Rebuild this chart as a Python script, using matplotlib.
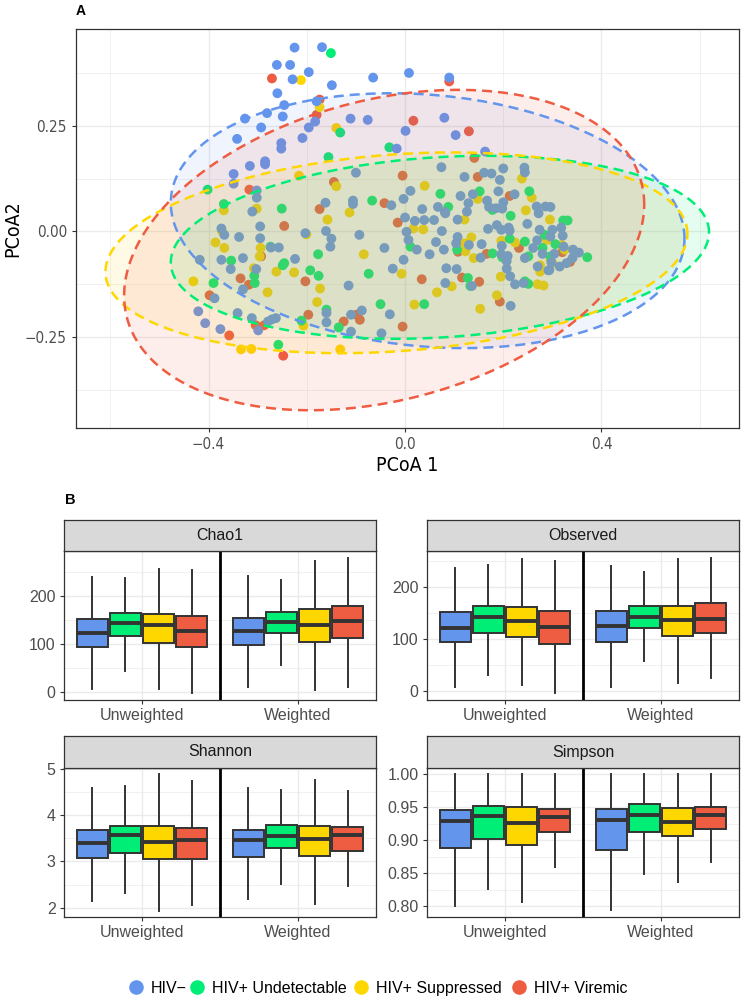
import numpy as np
import matplotlib
matplotlib.use('Agg')
import matplotlib.pyplot as plt
from matplotlib.lines import Line2D
from matplotlib import font_manager as fm

names = {f.name for f in fm.fontManager.ttflist}
if 'Liberation Sans Narrow' in names:
    NARROW = dict(family='Liberation Sans Narrow')
else:
    NARROW = dict(family='DejaVu Sans', stretch='condensed')
SANS = 'Liberation Sans'

# ---------------- data ----------------
groups = ['HIV\u2212', 'HIV+ Undetectable', 'HIV+ Suppressed', 'HIV+ Viremic']
colors = ['#6495ED', '#00EE76', '#FFD700', '#EE5C42']

hivneg_x = [-0.225,-0.169,-0.261,-0.234,-0.196,-0.229,-0.149,-0.065,0.008,0.090,
-0.260,-0.246,-0.180,-0.281,-0.249,-0.326,-0.111,-0.076,0.080,-0.293,
-0.196,-0.183,0.001,0.103,-0.342,-0.209,-0.252,-0.252,-0.017,0.163,
-0.285,-0.285,-0.316,-0.349,-0.349,-0.302,0.074,-0.100,0.121,0.161,
0.176,0.193,0.243,0.244,0.200,0.011,-0.302,-0.311,-0.162,-0.106,
-0.106,0.113,0.138,0.129,0.190,0.223,0.167,0.171,0.185,0.200,
0.198,0.268,0.286,0.296,0.272,0.067,0.035,-0.003,-0.028,0.126,
0.081,0.0,0.020,0.039,0.059,0.082,0.107,0.169,0.187,0.196,
0.211,0.213,0.249,0.274,0.300,0.318,0.321,0.296,0.269,0.261,
0.280,0.304,0.323,0.342,0.354,0.341,0.329,0.315,0.292,0.270,
0.244,0.209,0.197,0.156,0.130,0.107,0.104,0.079,0.063,0.075,
0.050,0.024,0.003,0.007,-0.042,-0.093,-0.150,-0.152,-0.161,-0.203,
-0.295,-0.295,-0.338,-0.374,-0.368,-0.374,-0.418,-0.355,-0.330,-0.330,
-0.303,-0.273,-0.257,-0.224,-0.003,-0.025,-0.115,0.084,0.105,0.154,
0.196,0.207,0.207,0.214,0.224,0.241,0.294,0.298,0.136,0.215,
0.082,-0.388,-0.421,-0.407,-0.376,-0.341,-0.312,-0.271,-0.263,-0.279,
-0.160,-0.160,-0.110,-0.110,-0.088,-0.048,-0.031,-0.299]
hivneg_y = [0.435,0.436,0.394,0.394,0.377,0.360,0.346,0.364,0.375,0.364,
0.327,0.299,0.308,0.280,0.272,0.267,0.267,0.264,0.269,0.246,
0.246,0.260,0.238,0.228,0.219,0.221,0.209,0.196,0.196,0.189,
0.166,0.159,0.155,0.136,0.113,0.097,0.152,0.139,0.129,0.139,
0.137,0.122,0.151,0.140,0.149,0.096,0.080,0.047,0.068,0.073,
0.065,0.084,0.088,0.067,0.095,0.088,0.073,0.058,0.055,0.069,
0.054,0.059,0.059,0.058,0.043,0.058,0.053,0.077,0.062,0.047,
0.046,0.033,0.025,0.027,0.027,0.043,0.028,0.006,0.015,0.004,
0.009,0.002,0.018,0.004,0.004,0.009,-0.010,-0.012,-0.021,-0.039,
-0.053,-0.053,-0.036,-0.043,-0.050,-0.063,-0.075,-0.083,-0.092,-0.083,
-0.063,-0.058,-0.034,-0.030,-0.032,-0.013,-0.028,-0.043,-0.025,0.001,
-0.054,-0.043,-0.001,-0.020,-0.039,-0.008,-0.017,-0.036,0.001,-0.004,
0.012,-0.016,-0.013,0.007,-0.008,-0.067,-0.067,-0.089,-0.063,-0.137,
-0.089,-0.038,-0.038,-0.065,-0.067,-0.088,-0.128,-0.087,-0.089,-0.062,
-0.054,-0.070,-0.088,-0.106,-0.125,-0.122,-0.091,-0.073,-0.129,-0.176,
-0.122,-0.158,-0.189,-0.217,-0.231,-0.193,-0.205,-0.208,-0.205,-0.213,
-0.193,-0.215,-0.237,-0.197,-0.187,-0.241,-0.196,-0.234]

undetect_x = [-0.151,-0.132,-0.032,-0.156,-0.402,-0.369,-0.251,-0.067,0.072,0.152,
0.253,0.215,0.178,0.088,0.322,0.331,0.284,0.244,0.213,0.178,
0.198,0.251,0.280,0.296,0.306,0.371,0.106,0.011,-0.177,-0.274,
-0.354,-0.246,-0.249,-0.193,-0.176,-0.074,-0.307,-0.306,-0.390,0.244,
0.251,0.128,0.133,-0.050,0.039,-0.211,-0.160,-0.135,-0.258]
undetect_y = [0.422,0.234,0.199,0.176,0.099,0.065,0.054,0.073,0.089,0.095,
0.095,0.037,0.051,0.058,0.026,0.026,-0.008,-0.024,-0.017,-0.052,
-0.061,-0.059,-0.039,-0.059,-0.030,-0.061,-0.043,-0.036,-0.054,-0.036,
-0.069,-0.075,-0.080,-0.092,-0.105,-0.100,-0.105,-0.122,-0.122,-0.118,
-0.124,-0.110,-0.129,-0.172,-0.172,-0.211,-0.185,-0.227,-0.268]

suppr_x = [-0.212,-0.174,-0.140,-0.216,-0.140,0.040,0.238,0.148,0.258,0.246,
-0.302,-0.369,-0.113,-0.158,0.295,0.017,0.037,0.135,0.196,0.224,
0.289,0.319,0.325,0.296,0.275,0.300,0.275,0.195,0.140,0.123,
0.121,0.121,-0.084,-0.201,-0.294,-0.373,-0.386,-0.368,-0.296,-0.308,
-0.262,-0.226,-0.173,-0.007,0.270,0.282,0.187,0.153,0.065,0.095,
0.019,-0.179,-0.207,-0.280,-0.334,-0.313,-0.132,-0.431]
suppr_y = [0.358,0.294,0.245,0.132,0.107,0.108,0.125,0.077,0.080,0.050,
0.054,0.050,0.045,0.028,0.028,0.007,0.005,-0.014,-0.022,-0.026,
-0.020,-0.032,-0.043,-0.067,-0.080,-0.075,-0.095,-0.107,-0.063,-0.047,
-0.028,0.028,-0.054,-0.007,-0.039,0.001,-0.026,-0.039,-0.059,-0.087,
-0.095,-0.097,-0.135,-0.100,-0.125,-0.128,-0.151,-0.183,-0.144,-0.130,
-0.173,-0.167,-0.223,-0.144,-0.279,-0.278,-0.279,-0.118]

viremic_x = [-0.271,0.090,-0.174,-0.180,0.017,0.130,-0.145,-0.005,0.141,0.148,
-0.317,-0.042,0.213,-0.174,-0.015,-0.246,0.108,0.166,0.232,0.320,
0.336,-0.293,0.116,0.034,-0.335,-0.203,0.151,0.193,-0.005,-0.125,
-0.099,-0.092,-0.197,-0.304,-0.287,-0.398,-0.358,-0.248,-0.318]
viremic_y = [0.362,0.355,0.312,0.276,0.262,0.237,0.117,0.132,0.174,0.129,
0.099,0.067,0.084,0.053,0.021,0.013,-0.048,-0.053,-0.039,-0.049,
-0.072,-0.059,-0.109,-0.113,-0.111,-0.118,-0.119,-0.166,-0.225,-0.213,
-0.197,-0.209,-0.197,-0.222,-0.222,-0.151,-0.246,-0.294,-0.126]

# ellipse (centre, half-extent in x and y, correlation) per group
ell_cx = [0.046, 0.071, -0.0175, -0.0425]
ell_cy = [0.0255, -0.0375, -0.0505, -0.044]
ell_wx = [0.523, 0.548, 0.5925, 0.5295]
ell_hy = [0.3015, 0.2165, 0.2375, 0.379]
ell_r = [-0.14, 0.165, 0.19, 0.285]

# boxplot stats per group: [lower whisker, q1, median, q3, upper whisker]
weightings = ['Unweighted', 'Weighted']
chao1_unw = [[6,94,122,152,240],[43,116,143,165,238],[7,102,139,162,257],[-3,93,126,158,255]]
chao1_wtd = [[10,97,126,155,242],[57,123,145,166,233],[4,105,140,172,273],[11,112,147,179,280]]
obs_unw = [[8,94,122,151,237],[31,111,142,163,243],[12,103,134,162,253],[-4,91,124,153,249]]
obs_wtd = [[8,95,125,153,240],[57,122,143,163,229],[15,106,137,164,254],[25,112,138,169,255]]
shan_unw = [[2.14,3.07,3.40,3.67,4.58],[2.31,3.19,3.57,3.76,4.64],[1.94,3.05,3.43,3.77,4.88],[2.05,3.06,3.47,3.72,4.73]]
shan_wtd = [[2.18,3.09,3.47,3.68,4.59],[2.51,3.30,3.56,3.79,4.55],[2.09,3.11,3.48,3.76,4.75],[2.46,3.23,3.58,3.74,4.52]]
simp_unw = [[0.801,0.888,0.930,0.946,1.0],[0.827,0.902,0.937,0.952,1.0],[0.807,0.893,0.926,0.950,1.0],[0.859,0.912,0.935,0.947,1.0]]
simp_wtd = [[0.794,0.886,0.931,0.947,1.0],[0.849,0.913,0.939,0.955,1.0],[0.837,0.906,0.928,0.949,1.0],[0.867,0.917,0.939,0.950,1.0]]

# ---------------- figure ----------------
W, H = 743, 1000
fig = plt.figure(figsize=(W/100, H/100), dpi=100)
GRID = '#EBEBEB'
FRAME = '#333333'
TICKC = '#4D4D4D'

def rect(l, t, r, b):
    return [l/W, 1-b/H, (r-l)/W, (b-t)/H]

# ---- panel A ----
axA = fig.add_axes(rect(76, 29, 739, 428))
axA.set_xlim(-0.670, 0.680)
axA.set_ylim(-0.465, 0.479)
axA.set_xticks([-0.4, 0.0, 0.4])
axA.set_xticks([-0.6, -0.2, 0.2, 0.6], minor=True)
axA.set_yticks([-0.25, 0.0, 0.25])
axA.set_yticks([-0.375, -0.125, 0.125, 0.375], minor=True)
axA.set_xticklabels(['\u22120.4', '0.0', '0.4'])
axA.set_yticklabels(['\u22120.25', '0.00', '0.25'])
axA.grid(True, which='major', color=GRID, lw=1.0, zorder=0)
axA.grid(True, which='minor', color=GRID, lw=0.5, zorder=0)
axA.set_axisbelow(True)
for s in axA.spines.values():
    s.set_color(FRAME); s.set_linewidth(0.9)
axA.tick_params(which='major', length=3, width=0.8, color=FRAME, labelcolor=TICKC, labelsize=11)
axA.tick_params(which='minor', length=0)
for lab in axA.get_xticklabels() + axA.get_yticklabels():
    lab.set_fontfamily(NARROW['family'])
    if 'stretch' in NARROW:
        lab.set_fontstretch(NARROW['stretch'])

pts = [(hivneg_x, hivneg_y), (undetect_x, undetect_y), (suppr_x, suppr_y), (viremic_x, viremic_y)]
for gi in [3, 2, 1, 0]:
    axA.scatter(pts[gi][0], pts[gi][1], s=50, color=colors[gi], edgecolor='none', zorder=3)

t = np.linspace(0, 2*np.pi, 400)
for gi in range(4):
    r = ell_r[gi]
    ex = ell_cx[gi] + ell_wx[gi]*np.cos(t)
    ey = ell_cy[gi] + ell_hy[gi]*(r*np.cos(t) + np.sqrt(1-r*r)*np.sin(t))
    axA.fill(ex, ey, color=colors[gi], alpha=0.1, lw=0, zorder=4)
    axA.plot(ex, ey, color=colors[gi], lw=1.8, ls=(0, (4, 2.4)), zorder=5)

axA.set_xlabel('PCoA 1', fontsize=14, color='black', labelpad=3, **NARROW)
axA.set_ylabel('PCoA2', fontsize=14, color='black', labelpad=2, **NARROW)
fig.text(76/W, 1-11/H, 'A', fontsize=10, fontweight='bold', family=SANS, va='center', ha='left')
fig.text(65/W, 1-500/H, 'B', fontsize=10.5, fontweight='bold', family=SANS, va='center', ha='left')

# ---- panel B ----
def box_panel(l, t_strip, t_plot, r, b, title, unw, wtd, ylim, major, minor, fmt):
    ax = fig.add_axes(rect(l, t_plot, r, b))
    sx = fig.add_axes(rect(l, t_strip, r, t_plot))
    for ci, grp in enumerate([unw, wtd]):
        stats = []
        pos = []
        for gi, s in enumerate(grp):
            stats.append(dict(whislo=s[0], q1=s[1], med=s[2], q3=s[3], whishi=s[4]))
            pos.append(ci + 1 + (gi - 1.5) * 0.212)
        bp = ax.bxp(stats, positions=pos, widths=0.195, patch_artist=True,
                    showfliers=False, showcaps=False, manage_ticks=False,
                    boxprops=dict(edgecolor=FRAME, linewidth=1.4),
                    whiskerprops=dict(color=FRAME, linewidth=1.4),
                    medianprops=dict(color=FRAME, linewidth=2.8, solid_capstyle='butt'))
        for gi, patch in enumerate(bp['boxes']):
            patch.set_facecolor(colors[gi]); patch.set_zorder(3)
        for w in bp['whiskers']:
            w.set_zorder(2)
        for m in bp['medians']:
            m.set_zorder(4)
    ax.axvline(1.5, color='black', lw=2.0, zorder=5)
    ax.set_xlim(0.5, 2.5)
    ax.set_ylim(*ylim)
    ax.set_xticks([1, 2])
    ax.set_xticklabels(weightings)
    ax.set_yticks(major)
    ax.set_yticks(minor, minor=True)
    ax.set_yticklabels([fmt.format(v) for v in major])
    ax.grid(True, which='major', color=GRID, lw=1.0, zorder=0)
    ax.grid(True, which='minor', axis='y', color=GRID, lw=0.5, zorder=0)
    ax.set_axisbelow(True)
    for s in ax.spines.values():
        s.set_color(FRAME); s.set_linewidth(0.9)
    ax.tick_params(which='major', length=3, width=0.8, color=FRAME, labelcolor=TICKC, labelsize=11.5, pad=3)
    ax.tick_params(which='minor', length=0)
    for lab in ax.get_xticklabels() + ax.get_yticklabels():
        lab.set_fontfamily(SANS)
    sx.set_facecolor('#D9D9D9')
    sx.set_xticks([]); sx.set_yticks([])
    for s in sx.spines.values():
        s.set_color(FRAME); s.set_linewidth(0.9)
    sx.text(0.5, 0.5, title, ha='center', va='center', fontsize=11.5, family=SANS, color='#1A1A1A',
            transform=sx.transAxes)
    return ax

box_panel(64, 520, 551, 376, 700, 'Chao1', chao1_unw, chao1_wtd, (-17, 294),
          [0, 100, 200], [50, 150, 250], '{:.0f}')
box_panel(427, 520, 551, 739, 700, 'Observed', obs_unw, obs_wtd, (-17, 269),
          [0, 100, 200], [50, 150, 250], '{:.0f}')
box_panel(64, 736, 768, 376, 917, 'Shannon', shan_unw, shan_wtd, (1.80, 5.02),
          [2, 3, 4, 5], [2.5, 3.5, 4.5], '{:.0f}')
box_panel(427, 736, 768, 739, 917, 'Simpson', simp_unw, simp_wtd, (0.784, 1.0096),
          [0.80, 0.85, 0.90, 0.95, 1.00], [0.825, 0.875, 0.925, 0.975], '{:.2f}')

# ---- legend (keys laid out along the bottom) ----
legend_key_px = [136, 197, 361, 519]
LEG_Y = 1 - 987/H
for gi, g in enumerate(groups):
    kx = legend_key_px[gi] / W
    fig.add_artist(Line2D([kx], [LEG_Y], marker='o', ls='none', markersize=10.5,
                          markerfacecolor=colors[gi], markeredgecolor='none',
                          transform=fig.transFigure))
    fig.text(kx + 15/W, LEG_Y, g, family=SANS, fontsize=11.5, color='black',
             ha='left', va='center_baseline')

fig.savefig('out.png', dpi=100)
